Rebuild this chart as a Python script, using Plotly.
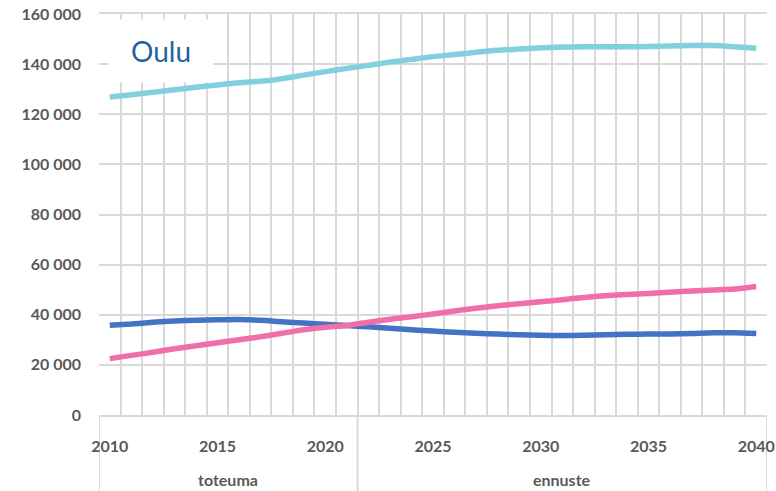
import plotly.graph_objects as go

years = list(range(2010, 2041))

cyan_vals = [126900, 127800, 128800, 129800, 130800, 131700, 132600, 133200, 134200, 135600,
             137000, 138300, 139500, 140800, 141900, 143000, 143800, 144700, 145500, 146000,
             146500, 146800, 146900, 146900, 146900, 147000, 147200, 147400, 147400, 146900, 146300]

blue_vals = [35800, 36300, 37000, 37500, 37800, 38000, 38100, 37800, 37200, 36700,
             36200, 35700, 35200, 34600, 34000, 33500, 33000, 32600, 32300, 32000,
             31800, 31700, 31800, 32000, 32200, 32300, 32300, 32500, 32800, 32800, 32500]

pink_vals = [22500, 23800, 25000, 26400, 27600, 28800, 30000, 31200, 32600, 34000,
             35000, 35700, 37000, 38200, 39200, 40300, 41500, 42600, 43600, 44400,
             45200, 46000, 46900, 47600, 48100, 48500, 49000, 49500, 49900, 50300, 51300]

x_tick_years = [2010, 2015, 2020, 2025, 2030, 2035, 2040]
y_ticks = [0, 20000, 40000, 60000, 80000, 100000, 120000, 140000, 160000]
groups = [("toteuma", 2010, 2021), ("ennuste", 2022, 2040)]
title_text = "Oulu"

GRID = "#D9D9D9"
TXT = "#595959"
FONT = "Lato"

fig = go.Figure()
for vals, col in [(cyan_vals, "#80D0DE"), (blue_vals, "#4472C4"), (pink_vals, "#F06EAA")]:
    fig.add_trace(go.Scatter(x=years, y=vals, mode="lines",
                             line=dict(color=col, width=5.5, shape="spline", smoothing=0.6),
                             showlegend=False, hoverinfo="skip", cliponaxis=False))

# group separators extending below the axis
bounds = sorted(set([g[1] - 0.5 for g in groups] + [g[2] + 0.5 for g in groups]))
for b in bounds:
    fig.add_shape(type="line", xref="x", yref="paper", x0=b, x1=b, y0=0, y1=-0.2,
                  line=dict(color=GRID, width=2), layer="below")
for name, a, b in groups:
    fig.add_annotation(x=(a + b) / 2, y=-0.162, xref="x", yref="paper", text=name,
                       showarrow=False, font=dict(family=FONT, size=16, color=TXT, weight="bold"),
                       xanchor="center", yanchor="middle")

fig.add_annotation(x=0.093, y=0.908, xref="paper", yref="paper", text=title_text,
                   showarrow=False, font=dict(family=FONT, size=28, color="#1F62A6"),
                   bgcolor="white", width=102, height=60, xanchor="center", yanchor="middle")

fig.update_layout(
    width=776, height=491,
    margin=dict(l=99, r=9, t=14, b=76, autoexpand=False),
    paper_bgcolor="white", plot_bgcolor="white",
    separators=", ",
    xaxis=dict(range=[years[0] - 0.5, years[-1] + 0.5], tickvals=x_tick_years,
               ticktext=[str(y) for y in x_tick_years], showgrid=False, zeroline=False,
               ticks="", ticklabelstandoff=16, automargin=False, ticklabeloverflow="allow",
               tickfont=dict(family=FONT, size=16, color=TXT, weight="bold"),
               minor=dict(tick0=years[0] - 0.5, dtick=1, showgrid=True, gridcolor=GRID, gridwidth=2),
               showline=True, mirror=True, linecolor=GRID, linewidth=2, layer="below traces"),
    yaxis=dict(range=[0, 160000], tickvals=y_ticks, tickformat=",d", showgrid=True,
               gridcolor=GRID, gridwidth=2, zeroline=False, ticks="", ticklabelstandoff=17,
               automargin=False, ticklabeloverflow="allow",
               tickfont=dict(family=FONT, size=16, color=TXT, weight="bold")),
)

fig.write_html("out.html", config={"displayModeBar": False},
               post_script="document.body.style.margin='0';document.body.style.overflow='hidden';")
